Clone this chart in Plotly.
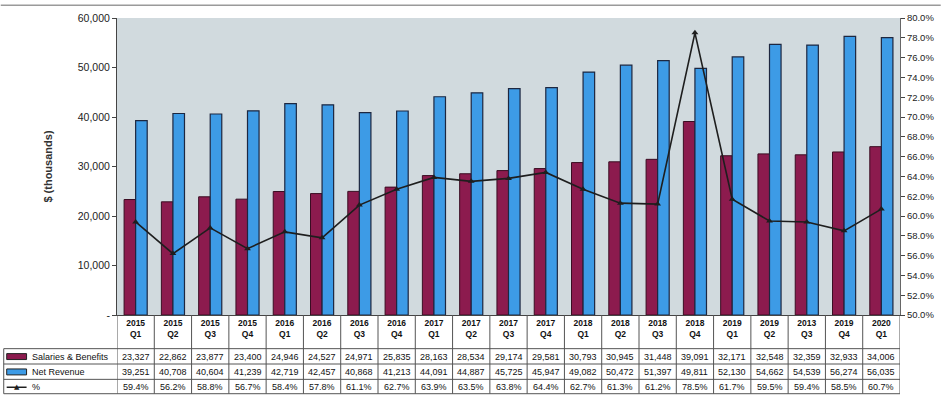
import plotly.graph_objects as go

# Quarterly data ($ thousands) and salaries as a share of net revenue
quarters = ["2015 Q1", "2015 Q2", "2015 Q3", "2015 Q4",
            "2016 Q1", "2016 Q2", "2016 Q3", "2016 Q4",
            "2017 Q1", "2017 Q2", "2017 Q3", "2017 Q4",
            "2018 Q1", "2018 Q2", "2018 Q3", "2018 Q4",
            "2019 Q1", "2019 Q2", "2013 Q3", "2019 Q4",
            "2020 Q1"]
salaries = [23327, 22862, 23877, 23400, 24946, 24527, 24971, 25835,
            28163, 28534, 29174, 29581, 30793, 30945, 31448, 39091,
            32171, 32548, 32359, 32933, 34006]
net_revenue = [39251, 40708, 40604, 41239, 42719, 42457, 40868, 41213,
               44091, 44887, 45725, 45947, 49082, 50472, 51397, 49811,
               52130, 54662, 54539, 56274, 56035]
pct = [59.4, 56.2, 58.8, 56.7, 58.4, 57.8, 61.1, 62.7, 63.9, 63.5, 63.8,
       64.4, 62.7, 61.3, 61.2, 78.5, 61.7, 59.5, 59.4, 58.5, 60.7]

left_ticks = [0, 10000, 20000, 30000, 40000, 50000, 60000]
right_ticks = [50 + 2 * i for i in range(16)]

MAROON = "#8c1b4e"
BLUE = "#3d9be6"
EDGE = "#1d2740"
FONT = "Liberation Sans, Arial, sans-serif"

W, H = 946, 395
ML, MR, MT, MB = 117, 41, 15, 80
PW, PH = W - ML - MR, H - MT - MB

def px_x(p):
    return (p - ML) / PW

def px_y(p):
    return (H - MB - p) / PH

n = len(quarters)
xs = list(range(n))

fig = go.Figure()
fig.add_trace(go.Bar(x=xs, y=salaries, name="Salaries & Benefits",
                     marker=dict(color=MAROON, line=dict(color="#3a0d22", width=1))))
fig.add_trace(go.Bar(x=xs, y=net_revenue, name="Net Revenue",
                     marker=dict(color=BLUE, line=dict(color=EDGE, width=1.2))))
fig.add_trace(go.Scatter(x=xs, y=pct, name="%", yaxis="y2", mode="lines+markers",
                         line=dict(color="#1e1e1e", width=1.6),
                         marker=dict(symbol="triangle-up", size=6, color="#1e1e1e")))

tick_text = ["<b>" + q.replace(" ", "<br>") + "</b>" for q in quarters]

shapes = []
annotations = []

# table grid: vertical column separators under each category
for i in range(n + 1):
    shapes.append(dict(type="line", xref="x", yref="paper",
                       x0=i - 0.5, x1=i - 0.5, y0=0, y1=px_y(394.5),
                       line=dict(color="#555555", width=1)))
# row separators
for py in (349, 364.5, 380, 394.5):
    shapes.append(dict(type="line", xref="paper", yref="paper",
                       x0=px_x(3), x1=1, y0=px_y(py), y1=px_y(py),
                       line=dict(color="#555555", width=1)))
shapes.append(dict(type="line", xref="paper", yref="paper",
                   x0=px_x(3), x1=px_x(3), y0=px_y(349), y1=px_y(394.5),
                   line=dict(color="#555555", width=1)))
# top frame line
shapes.append(dict(type="line", xref="paper", yref="paper",
                   x0=px_x(0), x1=px_x(946), y0=px_y(2), y1=px_y(2),
                   line=dict(color="#9a9a9a", width=1.5)))

rows = [
    (357, [f"{v:,}" for v in salaries]),
    (372.5, [f"{v:,}" for v in net_revenue]),
    (388, [f"{v:.1f}%" for v in pct]),
]
for py, texts in rows:
    for i, t in enumerate(texts):
        annotations.append(dict(x=i, y=px_y(py), xref="x", yref="paper",
                                text=t, showarrow=False,
                                font=dict(family=FONT, size=9, color="#111111"),
                                xanchor="center", yanchor="middle"))

# row legends
legend_rows = [(357, "Salaries & Benefits", MAROON), (372.5, "Net Revenue", BLUE), (388, "%", None)]
for py, label, col in legend_rows:
    if col:
        shapes.append(dict(type="rect", xref="paper", yref="paper",
                           x0=px_x(6), x1=px_x(26), y0=px_y(py + 3), y1=px_y(py - 3),
                           fillcolor=col, line=dict(color="#222222", width=1)))
    else:
        shapes.append(dict(type="line", xref="paper", yref="paper",
                           x0=px_x(6), x1=px_x(26), y0=px_y(py), y1=px_y(py),
                           line=dict(color="#1e1e1e", width=1.5)))
        annotations.append(dict(x=px_x(16), y=px_y(py), xref="paper", yref="paper",
                                text="▲", showarrow=False,
                                font=dict(family="DejaVu Sans", size=7, color="#1e1e1e"),
                                xanchor="center", yanchor="middle"))
    annotations.append(dict(x=px_x(29), y=px_y(py), xref="paper", yref="paper",
                            text=label, showarrow=False,
                            font=dict(family=FONT, size=9, color="#111111"),
                            xanchor="left", yanchor="middle"))

fig.update_layout(
    width=W, height=H,
    margin=dict(l=ML, r=MR, t=MT, b=MB, pad=0),
    paper_bgcolor="white",
    plot_bgcolor="#d1dade",
    barmode="group", bargap=0.38, bargroupgap=0,
    showlegend=False,
    font=dict(family=FONT, size=10, color="#222222"),
    xaxis=dict(range=[-0.5, n - 0.5], tickmode="array", tickvals=xs, ticktext=tick_text,
               ticks="", showgrid=False, zeroline=False, showline=True,
               linecolor="#444444", linewidth=1,
               tickfont=dict(family=FONT, size=8.5, color="#111111")),
    yaxis=dict(range=[0, 60000], tickmode="array", tickvals=left_ticks,
               ticktext=["-"] + [f"{v:,}" for v in left_ticks[1:]],
               ticks="outside", ticklen=4, tickcolor="#444444",
               showgrid=False, zeroline=False, showline=True,
               linecolor="#444444", linewidth=1,
               tickfont=dict(family=FONT, size=10.5, color="#222222"),
               title=dict(text="<b>$ (thousands)</b>", standoff=22,
                          font=dict(family=FONT, size=11, color="#333333"))),
    yaxis2=dict(range=[50, 80], overlaying="y", side="right", anchor="x",
                tickmode="array", tickvals=right_ticks,
                ticktext=[f"{v:.1f}%" for v in right_ticks],
                ticks="outside", ticklen=4, tickcolor="#444444",
                showgrid=False, zeroline=False, showline=True,
                linecolor="#666666", linewidth=1,
                tickfont=dict(family=FONT, size=9.5, color="#222222")),
    shapes=shapes,
    annotations=annotations,
)

fig.write_html("out.html")
